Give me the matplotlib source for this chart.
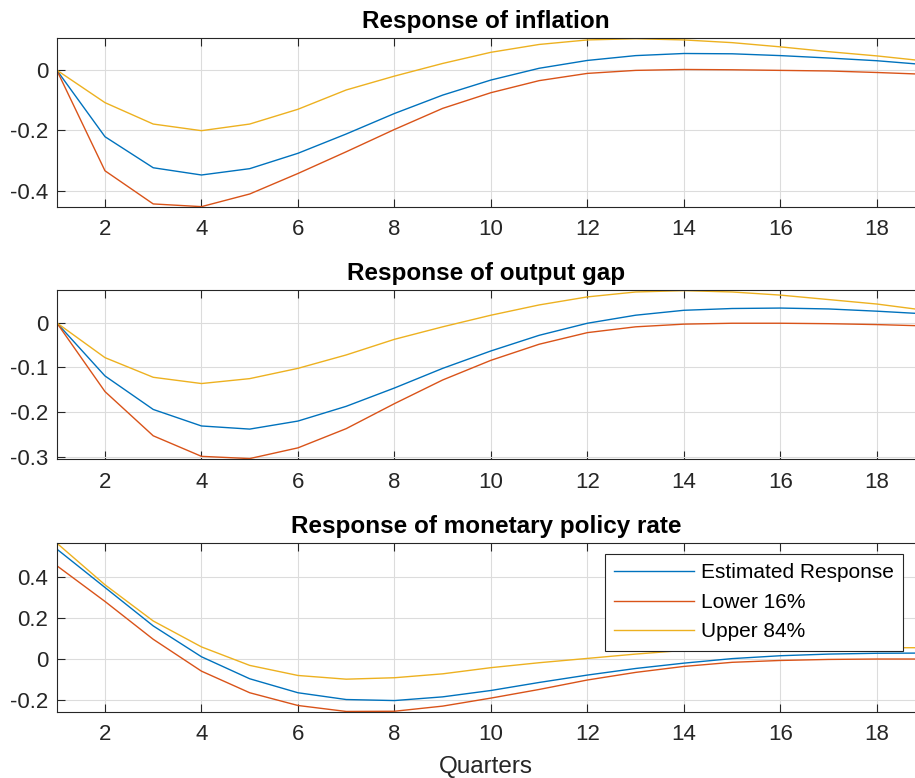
import matplotlib.pyplot as plt
import numpy as np

plt.rcParams['font.family'] = ['Liberation Sans', 'DejaVu Sans']
plt.rcParams['axes.unicode_minus'] = False

quarters = np.arange(1, 20)

# Response of inflation
infl_est = [0, -0.221, -0.324, -0.348, -0.327, -0.276, -0.212, -0.144, -0.083, -0.033,
            0.006, 0.032, 0.048, 0.055, 0.054, 0.048, 0.040, 0.031, 0.018]
infl_low = [0, -0.334, -0.444, -0.453, -0.411, -0.343, -0.271, -0.197, -0.127, -0.075,
            -0.035, -0.011, -0.001, 0.002, 0.001, -0.001, -0.003, -0.008, -0.014]
infl_up = [0, -0.108, -0.179, -0.201, -0.179, -0.130, -0.066, -0.020, 0.022, 0.059,
           0.085, 0.100, 0.104, 0.100, 0.091, 0.077, 0.061, 0.047, 0.030]

# Response of output gap
gap_est = [0, -0.119, -0.194, -0.231, -0.238, -0.220, -0.187, -0.146, -0.102, -0.063,
           -0.028, -0.001, 0.017, 0.028, 0.032, 0.033, 0.031, 0.026, 0.020]
gap_low = [0, -0.154, -0.253, -0.299, -0.304, -0.280, -0.237, -0.181, -0.128, -0.084,
           -0.048, -0.022, -0.009, -0.003, -0.001, -0.001, -0.002, -0.004, -0.007]
gap_up = [0, -0.078, -0.122, -0.136, -0.125, -0.102, -0.072, -0.037, -0.009, 0.017,
          0.040, 0.058, 0.069, 0.072, 0.069, 0.062, 0.052, 0.042, 0.028]

# Response of monetary policy rate
rate_est = [0.535, 0.348, 0.161, 0.011, -0.096, -0.164, -0.197, -0.202, -0.184, -0.153,
            -0.114, -0.078, -0.046, -0.020, 0.002, 0.016, 0.024, 0.028, 0.029]
rate_low = [0.454, 0.280, 0.096, -0.059, -0.164, -0.226, -0.255, -0.254, -0.229, -0.190,
            -0.148, -0.102, -0.065, -0.036, -0.016, -0.007, -0.002, 0.000, 0.000]
rate_up = [0.564, 0.361, 0.185, 0.059, -0.031, -0.080, -0.098, -0.091, -0.072, -0.042,
           -0.018, 0.003, 0.024, 0.042, 0.052, 0.055, 0.056, 0.055, 0.055]

titles = ["Response of inflation", "Response of output gap",
          "Response of monetary policy rate"]
series = [(infl_est, infl_low, infl_up), (gap_est, gap_low, gap_up),
          (rate_est, rate_low, rate_up)]
ylims = [(-0.454, 0.106), (-0.305, 0.073), (-0.257, 0.564)]
yticks = [[-0.4, -0.2, 0], [-0.3, -0.2, -0.1, 0], [-0.2, 0, 0.2, 0.4]]
labels = ["Estimated Response", "Lower 16%", "Upper 84%"]
colors = ["#0072BD", "#D95319", "#EDB120"]

fig = plt.figure(figsize=(9.15, 7.78), dpi=100)
bottoms = [0.734, 0.410, 0.085]
axes = []
for i in range(3):
    ax = fig.add_axes([0.062, bottoms[i], 0.938, 0.217])
    for vals, lab, c in zip(series[i], labels, colors):
        ax.plot(quarters, vals, color=c, lw=1.0, label=lab)
    ax.set_xlim(1, 18.79)
    ax.set_ylim(*ylims[i])
    ax.set_xticks(np.arange(2, 19, 2))
    ax.set_yticks(yticks[i])
    ax.set_yticklabels([f"{t:g}" for t in yticks[i]])
    ax.grid(True, color="#dcdcdc", lw=0.8)
    ax.set_axisbelow(True)
    ax.tick_params(direction="in", top=True, length=5.5, width=0.8,
                   labelsize=16, colors="#262626", pad=6)
    ax.tick_params(axis="x", pad=9)
    for side in ("top", "bottom", "left"):
        ax.spines[side].set_color("#262626")
        ax.spines[side].set_linewidth(0.8)
    ax.spines["right"].set_visible(False)
    ax.set_title(titles[i], fontsize=17.5, fontweight="bold", pad=7)
    axes.append(ax)

axes[2].set_xlabel("Quarters", fontsize=17.5, color="#262626", labelpad=8)
leg = axes[2].legend(loc="upper right", bbox_to_anchor=(0.986, 0.935),
                     fontsize=15, frameon=True, fancybox=False, framealpha=1,
                     edgecolor="#262626", handlelength=3.85, borderpad=0.45,
                     labelspacing=0.5, handletextpad=0.3, borderaxespad=0)
leg.get_frame().set_linewidth(0.8)

fig.savefig("out.png", dpi=100)
